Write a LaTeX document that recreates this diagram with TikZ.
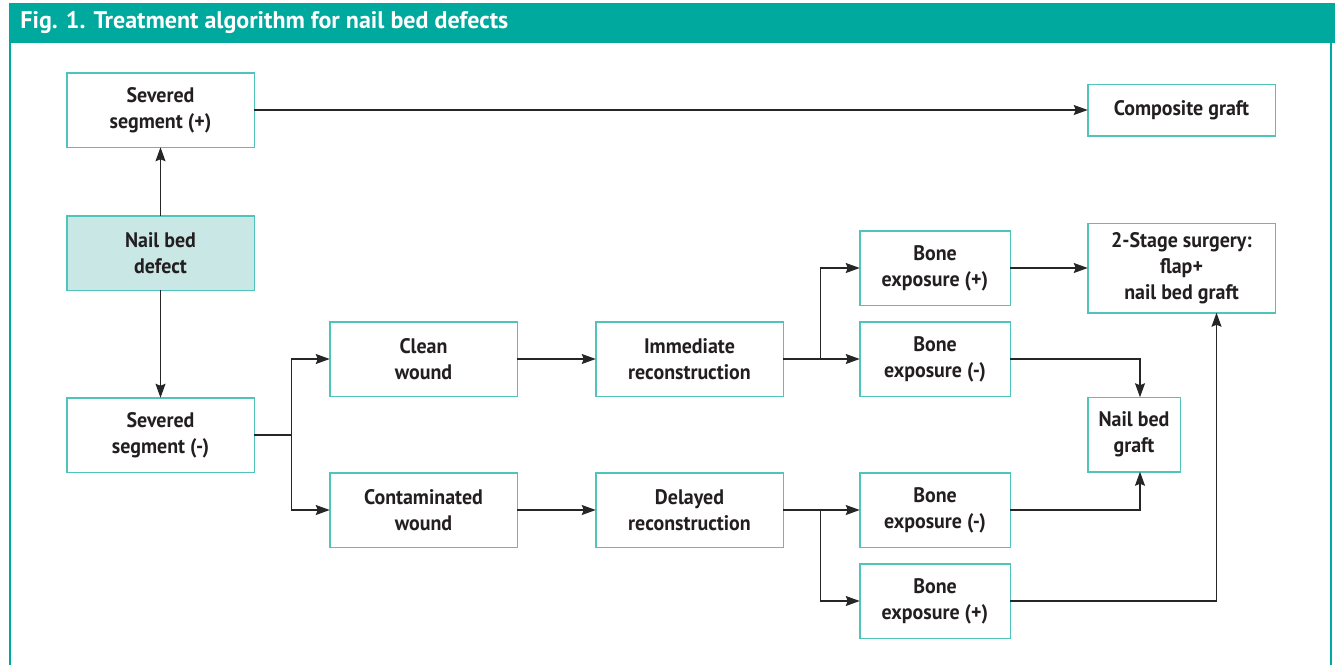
\documentclass[tikz,border=0pt]{standalone}
\usepackage{fontspec}
\setmainfont{PT Sans}[FakeStretch=0.95]
\newfontfamily\titlefont{PT Sans}
\usepackage{tikz}
\usetikzlibrary{positioning, arrows.meta}
\definecolor{headteal}{HTML}{00A99D}
\definecolor{boxteal}{HTML}{4FC4BB}
\definecolor{filltealk}{HTML}{C9E7E4}
\definecolor{inkgray}{HTML}{231F20}
\tikzset{
  block/.style={rectangle, draw=boxteal, line width=0.75pt, outer sep=0pt, minimum width=93.75pt, minimum height=37.25pt, align=center, inner sep=0pt, text=inkgray, font=\fontsize{10.5}{13}\selectfont\bfseries},
  arrow/.style={-{Stealth[length=7pt, width=5pt, inset=1pt]}, line width=0.6pt, draw=black!85},
  line/.style={line width=0.6pt, draw=black!85},
}

\begin{document}
\begin{tikzpicture}[x=0.5pt, y=-0.5pt, node distance=38.75pt and 38.75pt]
  \tikzset{
    startblock/.style={block, fill=filltealk},
    boneblock/.style={block, minimum width=75.25pt},
    flatblock/.style={block, minimum height=25.75pt},
    tallblock/.style={block, minimum height=44.75pt},
    narrowblock/.style={block, minimum width=46.25pt},
  }
  \useasboundingbox (0,0) rectangle (1335,665);

  % Frame and title
  \fill[headteal] (8.5,3) rectangle (1335,43);
  \draw[headteal, line width=1.3pt] (10,43) -- (10,665);
  \draw[headteal, line width=1.1pt] (1331,43) -- (1331,665);
  \node[anchor=west, text=white, font=\titlefont\fontsize{12}{14}\selectfont\bfseries, inner sep=0pt] (title) at (20,22) {Fig. 1. Treatment algorithm for nail bed defects};

  % Left column
  \node[startblock] (defect) at (160.5,253) {Nail bed\\defect};
  \node[block, above=34.25pt of defect] (sevplus) {Severed\\segment (+)};
  \node[block, below=53.75pt of defect] (sevminus) {Severed\\segment (-)};

  % Wound state
  \node[block, right=37.75pt of sevminus, yshift=38pt] (clean) {Clean\\wound};
  \node[block, right=37.75pt of sevminus, yshift=-37.5pt] (dirty) {Contaminated\\wound};

  % Timing of repair
  \node[block, right=39.25pt of clean] (immediate) {Immediate\\reconstruction};
  \node[block, right=39.25pt of dirty] (delayed) {Delayed\\reconstruction};

  % Bone exposure
  \node[boneblock, right=38.25pt of immediate] (boneminusA) {Bone\\exposure (-)};
  \node[boneblock, above=8.25pt of boneminusA] (boneplusA) {Bone\\exposure (+)};
  \node[boneblock, right=38.25pt of delayed] (boneminusB) {Bone\\exposure (-)};
  \node[boneblock, below=8.25pt of boneminusB] (boneplusB) {Bone\\exposure (+)};

  % Outcomes
  \node[tallblock, right=of boneplusA] (twostage) {2-Stage surgery:\\flap+\\nail bed graft};
  \node[flatblock] (composite) at (twostage |- sevplus) {Composite graft};
  \node[narrowblock, below=42.25pt of twostage.south west, anchor=north west] (nbgraft) {Nail bed\\graft};

  % Arrows
  \draw[arrow] (defect) -- (sevplus);
  \draw[arrow] (defect) -- (sevminus);
  \draw[arrow] (sevplus) -- (composite);
  \draw[line] (sevminus.east) -- ([xshift=18.5pt]sevminus.east) coordinate (splitwound);
  \draw[arrow] (splitwound) |- (clean);
  \draw[arrow] (splitwound) |- (dirty);
  \draw[arrow] (clean) -- (immediate);
  \draw[arrow] (dirty) -- (delayed);
  \draw[arrow] (immediate) -- (boneminusA);
  \draw[arrow] ([xshift=18.5pt]immediate.east) |- (boneplusA);
  \draw[arrow] (delayed) -- (boneminusB);
  \draw[arrow] ([xshift=18.5pt]delayed.east) |- (boneplusB);
  \draw[arrow] (boneplusA) -- (twostage);
  \draw[arrow] (boneminusA.east) -| ([xshift=3pt]nbgraft.north);
  \draw[arrow] (boneminusB.east) -| ([xshift=3pt]nbgraft.south);
  \draw[arrow] (boneplusB.east) -| ([xshift=17.5pt]twostage.south);

\end{tikzpicture}
\end{document}
